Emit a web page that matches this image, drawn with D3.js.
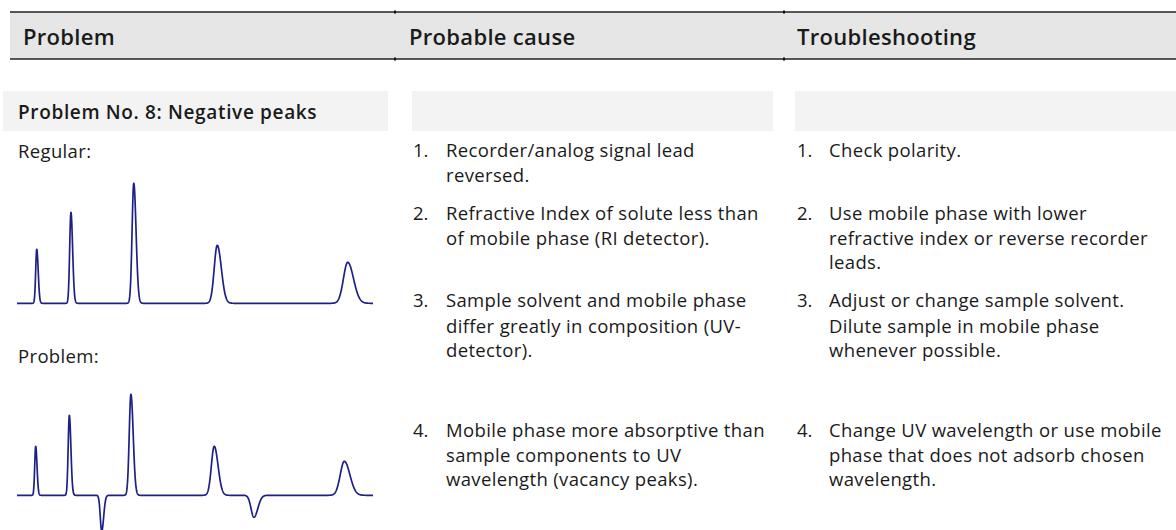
<!DOCTYPE html>
<html>
<head>
<meta charset="utf-8">
<script src="https://cdn.jsdelivr.net/npm/d3@7"></script>
<style>
  body { margin: 0; background: #fff; }
  text { font-family: "Open Sans", "Noto Sans", sans-serif; fill: #1a1a1a; }
</style>
</head>
<body>
<script>
const headers = ['Problem', 'Probable cause', 'Troubleshooting'];
const sectionTitle = 'Problem No. 8: Negative peaks';
const panelLabels = ['Regular:', 'Problem:'];

const causes = [
  ['Recorder/analog signal lead', 'reversed.'],
  ['Refractive Index of solute less than', 'of mobile phase (RI detector).'],
  ['Sample solvent and mobile phase', 'differ greatly in composition (UV-', 'detector).'],
  ['Mobile phase more absorptive than', 'sample components to UV', 'wavelength (vacancy peaks).']
];
const fixes = [
  ['Check polarity.'],
  ['Use mobile phase with lower', 'refractive index or reverse recorder', 'leads.'],
  ['Adjust or change sample solvent.', 'Dilute sample in mobile phase', 'whenever possible.'],
  ['Change UV wavelength or use mobile', 'phase that does not adsorb chosen', 'wavelength.']
];

// peaks (time in min, height in signal units, sigma in min)
const regularTimes = [1.11, 3.03, 6.56, 11.25, 18.58];
const regularHeights = [54, 91, 120, 58, 41];
const regularSigmas = [0.06, 0.07, 0.095, 0.17, 0.24];

const problemTimes = [1.05, 2.94, 4.76, 6.40, 11.08, 13.31, 18.39];
const problemHeights = [49, 80, -36, 101, 49, -22, 34];
const problemSigmas = [0.055, 0.065, 0.08, 0.095, 0.16, 0.16, 0.23];

const width = 1176;
const height = 530;
const colX = [10, 395, 784];
const itemY = [[157, 182], [220, 245], [307, 333, 357], [437, 462, 486]];
const fixY = [[157], [220, 245, 269], [307, 333, 357], [437, 462, 486]];
const bodySize = 18.5;
const bodySpacing = 0.35;

const svg = d3.select('body')
  .append('svg')
  .attr('width', width)
  .attr('height', height);

// header band
svg.append('rect')
  .attr('x', 10).attr('y', 12)
  .attr('width', width - 10).attr('height', 47)
  .attr('fill', '#e6e6e6');
[12, 59].forEach(y => {
  svg.append('line')
    .attr('x1', 10).attr('x2', width)
    .attr('y1', y).attr('y2', y)
    .attr('stroke', '#222').attr('stroke-width', 1.4);
  colX.slice(1).forEach(x => {
    svg.append('rect').attr('x', x - 1).attr('y', y - 1.5).attr('width', 2).attr('height', 3).attr('fill', '#111');
  });
});

svg.selectAll('.head')
  .data(headers)
  .enter()
  .append('text')
  .attr('class', 'head')
  .attr('x', (d, i) => [23, 409, 797][i])
  .attr('y', 45)
  .attr('font-size', 22)
  .attr('font-weight', 600)
  .attr('letter-spacing', 0.3)
  .text(d => d);

// section band
[[3, 388], [412, 773], [795, width]].forEach(([a, b]) => {
  svg.append('rect')
    .attr('x', a).attr('y', 91)
    .attr('width', b - a).attr('height', 40)
    .attr('fill', '#f3f3f3');
});
svg.append('text')
  .attr('x', 18).attr('y', 119)
  .attr('font-size', 19)
  .attr('font-weight', 600)
  .attr('letter-spacing', 0.65)
  .text(sectionTitle);

svg.selectAll('.plabel')
  .data(panelLabels)
  .enter()
  .append('text')
  .attr('x', 18)
  .attr('y', (d, i) => [158, 363][i])
  .attr('font-size', bodySize)
  .attr('letter-spacing', bodySpacing)
  .text(d => d);

function drawList(items, ys, numX, textX) {
  items.forEach((lines, i) => {
    svg.append('text')
      .attr('x', numX).attr('y', ys[i][0])
      .attr('font-size', bodySize)
      .text((i + 1) + '.');
    lines.forEach((l, j) => {
      svg.append('text')
        .attr('x', textX).attr('y', ys[i][j])
        .attr('font-size', bodySize)
        .attr('letter-spacing', bodySpacing)
        .text(l);
    });
  });
}
drawList(causes, itemY, 413, 446);
drawList(fixes, fixY, 797, 829);

// chromatograms
function drawTrace(times, heights, sigmas, base, topVal, topY) {
  const x = d3.scaleLinear().domain([0, 20]).range([17, 373]);
  const y = d3.scaleLinear().domain([0, topVal]).range([base, topY]);
  const pts = d3.range(0, 20.0001, 0.01).map(t => {
    let v = 0;
    times.forEach((c, k) => {
      const s = t < c ? sigmas[k] : sigmas[k] * 1.35;
      v += heights[k] * Math.exp(-0.5 * Math.pow((t - c) / s, 2));
    });
    return [t, v];
  });
  svg.append('path')
    .datum(pts)
    .attr('fill', 'none')
    .attr('stroke', '#1f1f88')
    .attr('stroke-width', 1.7)
    .attr('stroke-linejoin', 'round')
    .attr('d', d3.line().x(d => x(d[0])).y(d => y(d[1])));
}
drawTrace(regularTimes, regularHeights, regularSigmas, 303.3, 120, 183.3);
drawTrace(problemTimes, problemHeights, problemSigmas, 495.3, 101, 394.3);
</script>
</body>
</html>
